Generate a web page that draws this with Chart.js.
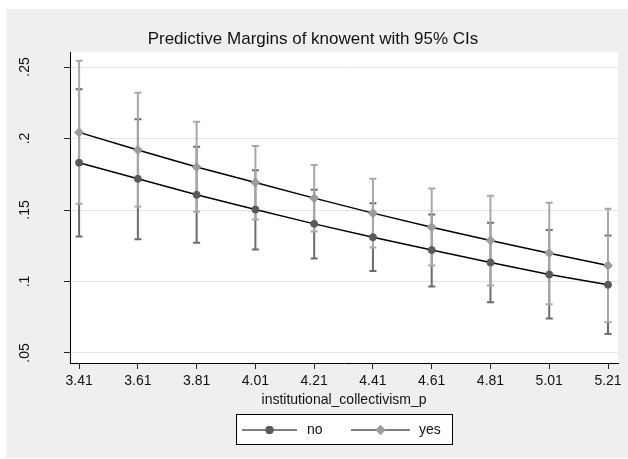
<!DOCTYPE html>
<html>
<head>
<meta charset="utf-8">
<script src="https://cdn.jsdelivr.net/npm/chart.js@4.4.1/dist/chart.umd.min.js"></script>
<style>
  body { margin: 0; background: #fff; }
  #wrap { position: absolute; left: 6px; top: 9px; width: 622px; height: 449px; background: #efefef; }
</style>
</head>
<body>
<div id="wrap"><canvas id="chart" width="622" height="449"></canvas></div>
<script>
// values
const xValues = [3.41, 3.61, 3.81, 4.01, 4.21, 4.41, 4.61, 4.81, 5.01, 5.21];
const xTickLabels = ['3.41', '3.61', '3.81', '4.01', '4.21', '4.41', '4.61', '4.81', '5.01', '5.21'];

const noMargin = [0.1831, 0.1718, 0.1606, 0.1503, 0.1403, 0.1310, 0.1220, 0.1133, 0.1049, 0.0977];
const noLower  = [0.1315, 0.1296, 0.1271, 0.1224, 0.1161, 0.1073, 0.0965, 0.0854, 0.0742, 0.0633];
const noUpper  = [0.2344, 0.2135, 0.1943, 0.1778, 0.1641, 0.1547, 0.1468, 0.1410, 0.1361, 0.1322];

const yesMargin = [0.2043, 0.1920, 0.1801, 0.1692, 0.1583, 0.1478, 0.1380, 0.1287, 0.1198, 0.1112];
const yesLower  = [0.1544, 0.1524, 0.1487, 0.1434, 0.1350, 0.1238, 0.1112, 0.0972, 0.0840, 0.0716];
const yesUpper  = [0.2544, 0.2320, 0.2118, 0.1948, 0.1815, 0.1718, 0.1650, 0.1599, 0.1550, 0.1508];

const yTicks = [0.05, 0.1, 0.15, 0.2, 0.25];
const yTickLabels = ['.05', '.1', '.15', '.2', '.25'];

const seriesNames = ['no', 'yes'];
const titleText = 'Predictive Margins of knowent with 95% CIs';
const xTitleText = 'institutional_collectivism_p';

const FONT = '"Liberation Sans", Arial, sans-serif';
const NO_DOT = '#5a5a5a', NO_CI = '#6c6c6c';
const YES_DOT = '#9c9c9c', YES_CI = '#a9a9a9';

// confidence interval caps, drawn under the lines
const ciPlugin = {
  id: 'ciBars',
  beforeDatasetsDraw(chart) {
    const ctx = chart.ctx, xs = chart.scales.x, ys = chart.scales.y;
    const drawSet = (lo, hi, color) => {
      ctx.save();
      ctx.strokeStyle = color;
      ctx.lineWidth = 2;
      xValues.forEach((xv, i) => {
        const px = xs.getPixelForValue(xv);
        const p1 = ys.getPixelForValue(lo[i]), p2 = ys.getPixelForValue(hi[i]);
        ctx.beginPath();
        ctx.moveTo(px, p1); ctx.lineTo(px, p2);
        ctx.moveTo(px - 3.5, p1); ctx.lineTo(px + 3.5, p1);
        ctx.moveTo(px - 3.5, p2); ctx.lineTo(px + 3.5, p2);
        ctx.stroke();
      });
      ctx.restore();
    };
    drawSet(noLower, noUpper, NO_CI);
    drawSet(yesLower, yesUpper, YES_CI);
  }
};

// title, rotated y labels, x title and legend box
const textPlugin = {
  id: 'stataText',
  afterDraw(chart) {
    const ctx = chart.ctx, ys = chart.scales.y, area = chart.chartArea;
    ctx.save();
    ctx.fillStyle = '#111';
    ctx.textAlign = 'center';
    ctx.textBaseline = 'middle';
    ctx.font = '17px ' + FONT;
    ctx.fillText(titleText, 307, 30);

    ctx.font = '14px ' + FONT;
    yTicks.forEach((v, i) => {
      ctx.save();
      ctx.translate(19, ys.getPixelForValue(v));
      ctx.rotate(-Math.PI / 2);
      ctx.fillText(yTickLabels[i], 0, 0);
      ctx.restore();
    });

    ctx.fillText(xTitleText, (area.left + area.right) / 2, 391);

    // legend
    const bx = 230, by = 405, bw = 216, bh = 30, cy = by + bh / 2 + 1;
    ctx.fillStyle = '#fff';
    ctx.fillRect(bx, by, bw, bh);
    ctx.strokeStyle = '#000';
    ctx.lineWidth = 1;
    ctx.strokeRect(bx + 0.5, by + 0.5, bw, bh);
    const items = [
      { x0: 236, x1: 291, style: 'circle', r: 4, color: NO_DOT, tx: 301 },
      { x0: 345, x1: 404, style: 'rectRot', r: 5, color: YES_DOT, tx: 413 }
    ];
    items.forEach((it, i) => {
      ctx.beginPath();
      ctx.strokeStyle = '#000';
      ctx.moveTo(it.x0, cy); ctx.lineTo(it.x1, cy);
      ctx.stroke();
      ctx.fillStyle = it.color;
      Chart.helpers.drawPoint(ctx, { pointStyle: it.style, radius: it.r, borderWidth: 0 }, (it.x0 + it.x1) / 2, cy);
      ctx.fill();
      ctx.fillStyle = '#111';
      ctx.textAlign = 'left';
      ctx.fillText(seriesNames[i], it.tx, cy);
    });
    ctx.restore();
  }
};

new Chart(document.getElementById('chart'), {
  type: 'line',
  data: {
    datasets: [
      {
        label: seriesNames[0],
        data: xValues.map((x, i) => ({ x: x, y: noMargin[i] })),
        borderColor: '#000', borderWidth: 1.5,
        pointStyle: 'circle', pointRadius: 3.5, pointBorderWidth: 1,
        pointBackgroundColor: NO_DOT, pointBorderColor: NO_DOT
      },
      {
        label: seriesNames[1],
        data: xValues.map((x, i) => ({ x: x, y: yesMargin[i] })),
        borderColor: '#000', borderWidth: 1.5,
        pointStyle: 'rectRot', pointRadius: 4.5, pointBorderWidth: 1,
        pointBackgroundColor: YES_DOT, pointBorderColor: YES_DOT
      }
    ]
  },
  options: {
    responsive: false,
    animation: false,
    layout: { padding: { top: 43, right: 10, bottom: 0, left: 0 } },
    plugins: { legend: { display: false }, title: { display: false }, tooltip: { enabled: false } },
    scales: {
      x: {
        type: 'linear',
        min: 3.379, max: 5.244,
        afterBuildTicks: (s) => { s.ticks = xValues.map(v => ({ value: v })); },
        afterFit: (s) => { s.height = 95; },
        ticks: {
          color: '#111', font: { family: FONT, size: 14 }, padding: 4,
          maxRotation: 0, autoSkip: false,
          callback: (v) => xTickLabels[xValues.indexOf(v)] || ''
        },
        grid: { drawOnChartArea: false, drawTicks: true, tickLength: 6, tickColor: '#222' },
        border: { display: true, color: '#000', width: 1 }
      },
      y: {
        type: 'linear',
        min: 0.043, max: 0.2605,
        afterBuildTicks: (s) => { s.ticks = yTicks.map(v => ({ value: v })); },
        afterFit: (s) => { s.width = 64; },
        ticks: { display: false },
        grid: { color: '#e4e4e4', lineWidth: 1, drawTicks: true, tickLength: 6, tickColor: '#222' },
        border: { display: true, color: '#000', width: 1 }
      }
    }
  },
  plugins: [ciPlugin, textPlugin, {
    id: 'plotBg',
    beforeDraw(chart) {
      const a = chart.chartArea;
      chart.ctx.save();
      chart.ctx.fillStyle = '#fff';
      chart.ctx.fillRect(a.left, a.top, a.right - a.left, a.bottom - a.top);
      chart.ctx.restore();
    }
  }]
});
</script>
</body>
</html>
